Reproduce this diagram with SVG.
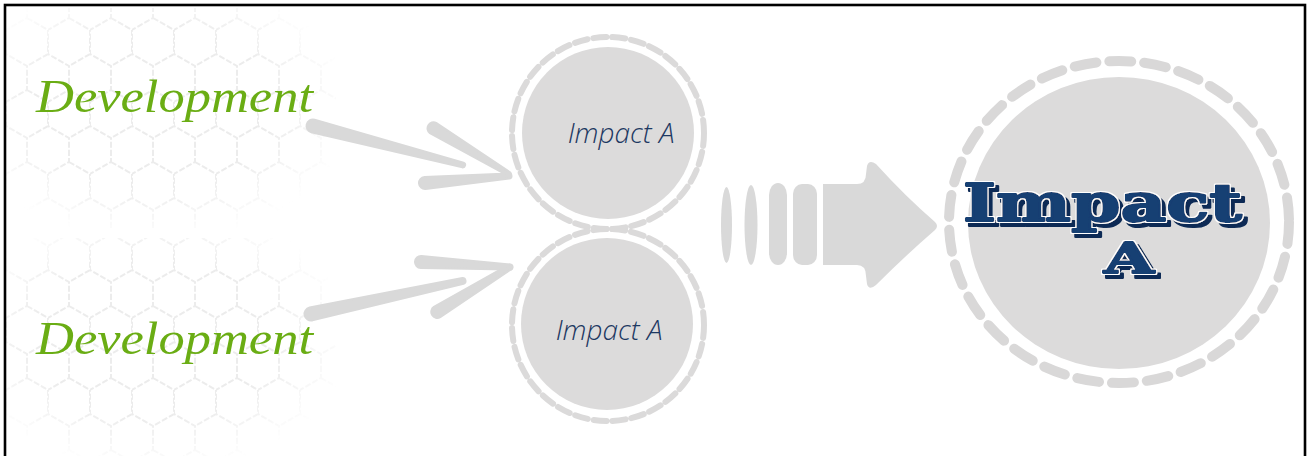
<svg xmlns="http://www.w3.org/2000/svg" width="1308" height="456" viewBox="0 0 1308 456">
  <style>
    .dev { font-family: "Liberation Serif", "DejaVu Serif", serif; font-style: italic; font-size: 47px; fill: #6aad14; }
    .small-label { font-family: "Open Sans", "Liberation Sans", sans-serif; font-style: italic; font-weight: 300; font-size: 28px; fill: #1d3862; }
    .big-label { font-family: "DejaVu Serif", "Liberation Serif", serif; font-weight: bold; fill: #173f73; stroke: #173f73; stroke-width: 2px; stroke-linejoin: round; }
    .disc { fill: #dcdbdb; }
    .ring-small { fill: none; stroke: #dbdada; stroke-width: 6; stroke-dasharray: 13 6; stroke-linecap: round; }
    .ring-big { fill: none; stroke: #d9d8d8; stroke-width: 10; stroke-dasharray: 22 13; stroke-linecap: round; }
    .brush { fill: #d9d9d9; stroke: #d9d9d9; stroke-width: 2; stroke-linejoin: round; }
    .flow { fill: #d9d9d9; }
  </style>
  <defs>
    <!-- honeycomb tile, pointy-top hexagons -->
    <pattern id="hex" x="6" y="6" width="42" height="72" patternUnits="userSpaceOnUse">
      <path d="M21,0 V12 L0,24 V48 L21,60 V72 M21,12 L42,24 V48 L21,60" fill="none" stroke="#ececec" stroke-width="2" stroke-dasharray="6 2"/>
    </pattern>
    <radialGradient id="fade" cx="0.45" cy="0.45" r="0.6">
      <stop offset="0" stop-color="#fff"/>
      <stop offset="0.6" stop-color="#fff"/>
      <stop offset="1" stop-color="#000"/>
    </radialGradient>
    <mask id="hexMaskTop" maskUnits="userSpaceOnUse" x="0" y="0" width="1308" height="456">
      <rect x="6" y="8" width="330" height="222" fill="url(#fade)"/>
    </mask>
    <mask id="hexMaskBottom" maskUnits="userSpaceOnUse" x="0" y="0" width="1308" height="456">
      <rect x="6" y="238" width="330" height="222" fill="url(#fade)"/>
    </mask>
    <!-- engraved lettering: white rim plus an offset dark shadow -->
    <filter id="engrave" x="-5%" y="-10%" width="115%" height="135%">
      <feMorphology in="SourceAlpha" operator="dilate" radius="1.3" result="rim"/>
      <feOffset in="rim" dx="3.5" dy="4" result="off"/>
      <feFlood flood-color="#0b2a55"/>
      <feComposite in2="off" operator="in" result="shadow"/>
      <feFlood flood-color="#ffffff"/>
      <feComposite in2="rim" operator="in" result="white"/>
      <feMerge>
        <feMergeNode in="shadow"/>
        <feMergeNode in="white"/>
        <feMergeNode in="SourceGraphic"/>
      </feMerge>
    </filter>
  </defs>

  <rect x="0" y="0" width="1308" height="456" fill="#ffffff"/>

  <!-- honeycomb backdrops -->
  <g id="honeycomb">
    <rect x="6" y="8" width="330" height="222" fill="url(#hex)" mask="url(#hexMaskTop)"/>
    <rect x="6" y="238" width="330" height="222" fill="url(#hex)" mask="url(#hexMaskBottom)"/>
  </g>

  <!-- frame -->
  <rect x="5" y="5" width="1300" height="460" fill="none" stroke="#000" stroke-width="2.6"/>

  <!-- connectors -->
  <g id="connectors">
    <!-- upper brush arrow -->
    <path class="brush" d="M314.6,119.7 L463.6,162.6 A2.5 2.5 0 0 1 462.4,167.4 L311.4,132.3 A6.5 6.5 0 0 1 314.6,119.7 Z"/>
    <path class="brush" d="M436.1,122.9 L510,172.3 A2 2 0 0 1 508,175.7 L429.9,133.1 A6 6 0 0 1 436.1,122.9 Z"/>
    <path class="brush" d="M424.5,177 L508.8,173.5 A2.5 2.5 0 0 1 509.2,178.5 L425.5,189 A6 6 0 0 1 424.5,177 Z"/>
    <!-- lower brush arrow -->
    <path class="brush" d="M309.6,307.6 L462.4,278.1 A3 3 0 0 1 463.6,283.9 L312.4,320.4 A6.5 6.5 0 0 1 309.6,307.6 Z"/>
    <path class="brush" d="M421.3,256 L510.1,264.5 A2.5 2.5 0 0 1 509.9,269.5 L420.7,268 A6 6 0 0 1 421.3,256 Z"/>
    <path class="brush" d="M433.9,306.9 L508.7,264.9 A2.5 2.5 0 0 1 511.3,269.1 L440.2,317.1 A6 6 0 0 1 433.9,306.9 Z"/>
    <!-- striped block arrow -->
    <g id="flow-arrow">
      <ellipse class="flow" cx="726.5" cy="225" rx="5.5" ry="38"/>
      <ellipse class="flow" cx="751" cy="225" rx="6.5" ry="40"/>
      <rect class="flow" x="769" y="183" width="18" height="82" rx="9" ry="12"/>
      <rect class="flow" x="793" y="184" width="24" height="81" rx="9" ry="10"/>
      <path class="flow" d="M823,184 L857,184 Q866,184 866,174 L867,166 Q869,159 876,164 Q905,196 935,222 Q939,226 935,230 Q905,256 876,285 Q869,291 867,284 L866,276 Q866,265 857,265 L823,265 Z"/>
    </g>
  </g>

  <!-- source labels -->
  <g id="node-development-1">
    <text class="dev" x="36" y="112" textLength="277" lengthAdjust="spacingAndGlyphs">Development</text>
  </g>
  <g id="node-development-2">
    <text class="dev" x="36" y="354" textLength="277" lengthAdjust="spacingAndGlyphs">Development</text>
  </g>

  <!-- intermediate impacts -->
  <g id="node-impact-1">
    <circle class="disc" cx="608" cy="133" r="86"/>
    <circle class="ring-small" cx="608" cy="133" r="96"/>
    <text class="small-label" x="621" y="143" text-anchor="middle">Impact A</text>
  </g>
  <g id="node-impact-2">
    <circle class="disc" cx="607" cy="324" r="86"/>
    <circle class="ring-small" cx="608" cy="325" r="96"/>
    <text class="small-label" x="609" y="340" text-anchor="middle">Impact A</text>
  </g>

  <!-- combined impact -->
  <g id="node-impact-total">
    <ellipse class="disc" cx="1119" cy="223" rx="151" ry="146"/>
    <ellipse class="ring-big" cx="1119" cy="222" rx="170" ry="161"/>
    <text class="big-label" filter="url(#engrave)" font-size="52" x="963" y="221" textLength="279" lengthAdjust="spacingAndGlyphs">Impact</text>
    <text class="big-label" filter="url(#engrave)" font-size="43" x="1104" y="273" textLength="50" lengthAdjust="spacingAndGlyphs">A</text>
  </g>
</svg>
